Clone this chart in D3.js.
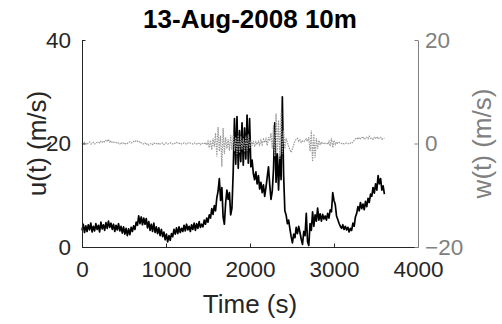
<!DOCTYPE html>
<html>
<head>
<meta charset="utf-8">
<script src="https://cdn.jsdelivr.net/npm/d3@7"></script>
<style>
  html, body { margin: 0; padding: 0; background: #fff; }
  svg { display: block; }
  text { font-family: "Liberation Sans", Arial, Helvetica, sans-serif; }
</style>
</head>
<body>
<svg id="chart" width="502" height="324"></svg>
<script>
// ---- data ----
const titleText = "13-Aug-2008 10m";
const sampleInterval = 15; // seconds between samples, starting at t = 0
const uValues = [
  3.2, 4.4, 2.8, 4.1, 3.0, 4.3, 3.3, 4.6, 2.9, 4.0,
  3.1, 4.5, 3.4, 4.2, 2.9, 4.8, 3.5, 4.3, 3.2, 4.7,
  3.6, 5.0, 3.8, 4.6, 3.4, 4.4, 3.0, 4.2, 3.3, 4.5,
  3.1, 4.0, 2.7, 3.9, 2.5, 3.6, 2.2, 3.5, 2.4, 3.8,
  3.0, 4.1, 3.4, 4.8, 4.2, 6.0, 4.5, 5.8, 4.3, 5.6,
  4.4, 5.5, 3.7, 4.9, 3.2, 4.4, 3.0, 4.6, 2.8, 3.9,
  2.6, 3.7, 2.2, 3.4, 2.0, 2.9, 1.4, 2.5, 1.0, 2.2,
  1.3, 2.6, 2.0, 3.4, 2.5, 3.7, 2.6, 3.9, 2.8, 3.6,
  3.0, 4.2, 3.1, 4.4, 3.3, 4.0, 3.0, 4.3, 3.4, 4.6,
  3.2, 4.5, 3.6, 4.9, 3.8, 4.4, 3.9, 5.2, 4.4, 5.6,
  4.8, 6.2, 5.6, 7.4, 6.3, 8.0, 7.0, 9.5, 10.8, 13.2,
  9.0, 11.5, 5.8, 4.4, 8.5, 11.0, 9.2, 10.5, 6.2, 7.5,
  14.5, 24.8, 16.0, 25.2, 15.2, 22.5, 16.5, 24.0, 15.8, 23.0,
  17.0, 25.5, 16.2, 24.8, 15.5, 16.8, 14.2, 13.0, 14.5, 12.2,
  13.8, 11.2, 12.5, 10.5, 12.0, 9.8, 11.5, 13.5, 15.5, 12.0,
  9.2, 10.8, 15.0, 24.0, 12.5, 18.0, 11.0, 17.5, 13.0, 29.0,
  14.0, 7.0, 6.2, 4.5, 5.2, 3.5, 2.0, 0.8, 2.5, 1.8,
  3.8, 2.6, 4.0, 2.8, 1.5, 0.5, 3.0, 2.2, 6.5, 1.0,
  0.3, 4.5, 3.2, 6.8, 4.0, 6.2, 5.0, 7.5, 5.2, 6.4,
  5.0, 6.3, 5.4, 6.0, 5.2, 6.5, 5.6, 7.2, 6.8, 10.5,
  9.0, 8.2, 6.0, 5.3, 4.6, 4.0, 3.6, 4.3, 3.4, 4.0,
  3.3, 3.8, 2.9, 3.6, 3.2, 4.6, 4.0, 5.8, 6.5, 7.8,
  7.0, 8.6, 7.4, 8.3, 7.2, 8.8, 7.8, 9.4, 8.6, 10.2,
  9.8, 11.5, 10.4, 12.2, 11.0, 13.8, 12.2, 13.2, 11.0, 11.8,
  10.2
];
const wValues = [
  0.1, -0.1, 0.2, 0.0, -0.2, 0.1, 0.3, -0.1, 0.0, 0.2,
  -0.1, 0.1, 0.2, 0.3, 0.1, 0.4, 0.2, 0.5, 0.3, 0.6,
  0.4, 0.8, 0.3, 0.5, 0.2, 0.3, 0.1, 0.2, 0.0, 0.1,
  -0.1, 0.2, 0.0, 0.1, -0.2, 0.1, 0.0, 0.2, 0.3, 0.1,
  0.2, 0.4, 0.3, 0.6, 0.5, 0.2, 0.4, 0.1, 0.0, -0.1,
  0.1, -0.2, 0.0, -0.3, -0.1, 0.0, -0.2, 0.1, -0.1, 0.0,
  -0.2, 0.1, -0.1, 0.0, 0.1, -0.2, 0.0, 0.1, -0.1, 0.0,
  0.1, 0.0, -0.1, 0.1, 0.0, 0.2, 0.1, 0.0, 0.1, -0.1,
  0.0, 0.1, 0.0, -0.1, 0.1, 0.0, 0.1, 0.0, -0.1, 0.1,
  0.0, -0.1, 0.1, 0.0, -0.2, 0.1, 0.0, -0.1, 0.2, -0.3,
  0.4, -0.8, 0.6, -1.2, 1.0, -0.6, 2.0, -2.5, 3.2, -1.5,
  1.5, -4.5, 3.0, -2.0, 1.2, -1.0, 0.8, -1.4, 1.6, -1.2,
  1.8, -1.5, 1.2, -2.0, 1.6, -1.8, 1.4, -1.2, 1.0, -1.6,
  1.5, -1.4, 1.8, -1.0, 0.6, -0.4, 0.5, -0.6, 0.3, -0.2,
  0.4, -0.3, 0.6, -0.2, 0.8, 0.2, 0.9, -0.4, 1.2, 0.5,
  2.0, -1.0, 3.5, -2.5, 5.8, -1.5, 4.5, -3.0, 6.2, -2.0,
  2.5, -1.0, 1.0, 0.2, -0.6, -1.2, -1.7, -1.0, -0.3, 0.5,
  0.8, 1.0, 0.4, 0.7, 0.2, 0.5, 0.3, 0.6, 0.9, 0.4,
  1.2, -1.5, 2.5, -3.5, 1.8, -2.8, 1.0, -1.0, 0.6, -0.3,
  0.3, -0.1, 0.2, 0.0, 0.1, -0.2, 0.4, -0.5, 1.0, -0.8,
  0.6, -0.2, 0.3, 0.0, 0.2, 0.1, 0.0, 0.1, -0.1, 0.0,
  0.1, 0.0, -0.1, 0.1, 0.0, 0.3, 0.6, 0.9, 1.1, 0.8,
  1.2, 0.9, 1.1, 1.3, 0.8, 1.0, 1.2, 0.9, 1.4, 1.0,
  1.1, 0.8, 1.2, 1.0, 1.3, 0.9, 1.1, 1.2, 0.8, 1.0,
  1.0
];
const xTicks = [0, 1000, 2000, 3000, 4000];
const uTicks = [0, 20, 40];
const wTicks = [-20, 0, 20];
const xLabel = "Time (s)";
const uLabel = "u(t) (m/s)";
const wLabel = "w(t) (m/s)";

// ---- layout ----
const plot = { left: 82, right: 418, top: 40, bottom: 247 };
const darkCol = "#262626";
const grayCol = "#808080";
const tickFont = "22.5px";
const labelFont = "26px";

const svg = d3.select("#chart");

const x = d3.scaleLinear().domain([xTicks[0], xTicks[xTicks.length - 1]]).range([plot.left, plot.right]);
const yU = d3.scaleLinear().domain([uTicks[0], uTicks[uTicks.length - 1]]).range([plot.bottom, plot.top]);
const yW = d3.scaleLinear().domain([wTicks[0], wTicks[wTicks.length - 1]]).range([plot.bottom, plot.top]);

// data lines
const uLine = d3.line().x((d, i) => x(i * sampleInterval)).y(d => yU(d));
const wLine = d3.line().x((d, i) => x(i * sampleInterval)).y(d => yW(d));

svg.append("path").datum(uValues)
  .attr("d", uLine)
  .attr("fill", "none")
  .attr("stroke", "#000")
  .attr("stroke-width", 1.7)
  .attr("stroke-linejoin", "round");

svg.append("path").datum(wValues)
  .attr("d", wLine)
  .attr("fill", "none")
  .attr("stroke", "#9a9a9a")
  .attr("stroke-width", 1.2)
  .attr("stroke-dasharray", "1.5,1");

// axes
function styleAxis(g, col) {
  g.selectAll("path.domain").attr("stroke", col).attr("stroke-width", 1);
  g.selectAll(".tick line").attr("stroke", col);
  g.selectAll(".tick text")
    .attr("fill", col)
    .style("font-size", tickFont)
    .style("font-family", '"Liberation Sans", Arial, sans-serif');
}

const gx = svg.append("g")
  .attr("transform", `translate(0,${plot.bottom})`)
  .call(d3.axisBottom(x).tickValues(xTicks).tickFormat(d3.format("d"))
    .tickSizeInner(-3.5).tickSizeOuter(0).tickPadding(14));
styleAxis(gx, darkCol);
gx.selectAll(".tick text").attr("dy", "0.71em");

const gu = svg.append("g")
  .attr("transform", `translate(${plot.left},0)`)
  .call(d3.axisLeft(yU).tickValues(uTicks).tickFormat(d3.format("d"))
    .tickSizeInner(-3.5).tickSizeOuter(0).tickPadding(11));
styleAxis(gu, darkCol);

const gw = svg.append("g")
  .attr("transform", `translate(${plot.right},0)`)
  .call(d3.axisRight(yW).tickValues(wTicks).tickFormat(d3.format("d"))
    .tickSizeInner(-3.5).tickSizeOuter(0).tickPadding(7));
styleAxis(gw, grayCol);

// labels
svg.append("text")
  .attr("x", (plot.left + plot.right) / 2)
  .attr("y", 28)
  .attr("text-anchor", "middle")
  .style("font-size", "26px")
  .style("font-weight", "bold")
  .attr("fill", "#000")
  .text(titleText);

svg.append("text")
  .attr("x", (plot.left + plot.right) / 2)
  .attr("y", 313)
  .attr("text-anchor", "middle")
  .style("font-size", labelFont)
  .attr("fill", darkCol)
  .text(xLabel);

svg.append("text")
  .attr("transform", `translate(46,${(plot.top + plot.bottom) / 2}) rotate(-90)`)
  .attr("text-anchor", "middle")
  .style("font-size", labelFont)
  .attr("fill", darkCol)
  .text(uLabel);

svg.append("text")
  .attr("transform", `translate(491,${(plot.top + plot.bottom) / 2}) rotate(-90)`)
  .attr("text-anchor", "middle")
  .style("font-size", labelFont)
  .attr("fill", grayCol)
  .text(wLabel);
</script>
</body>
</html>
